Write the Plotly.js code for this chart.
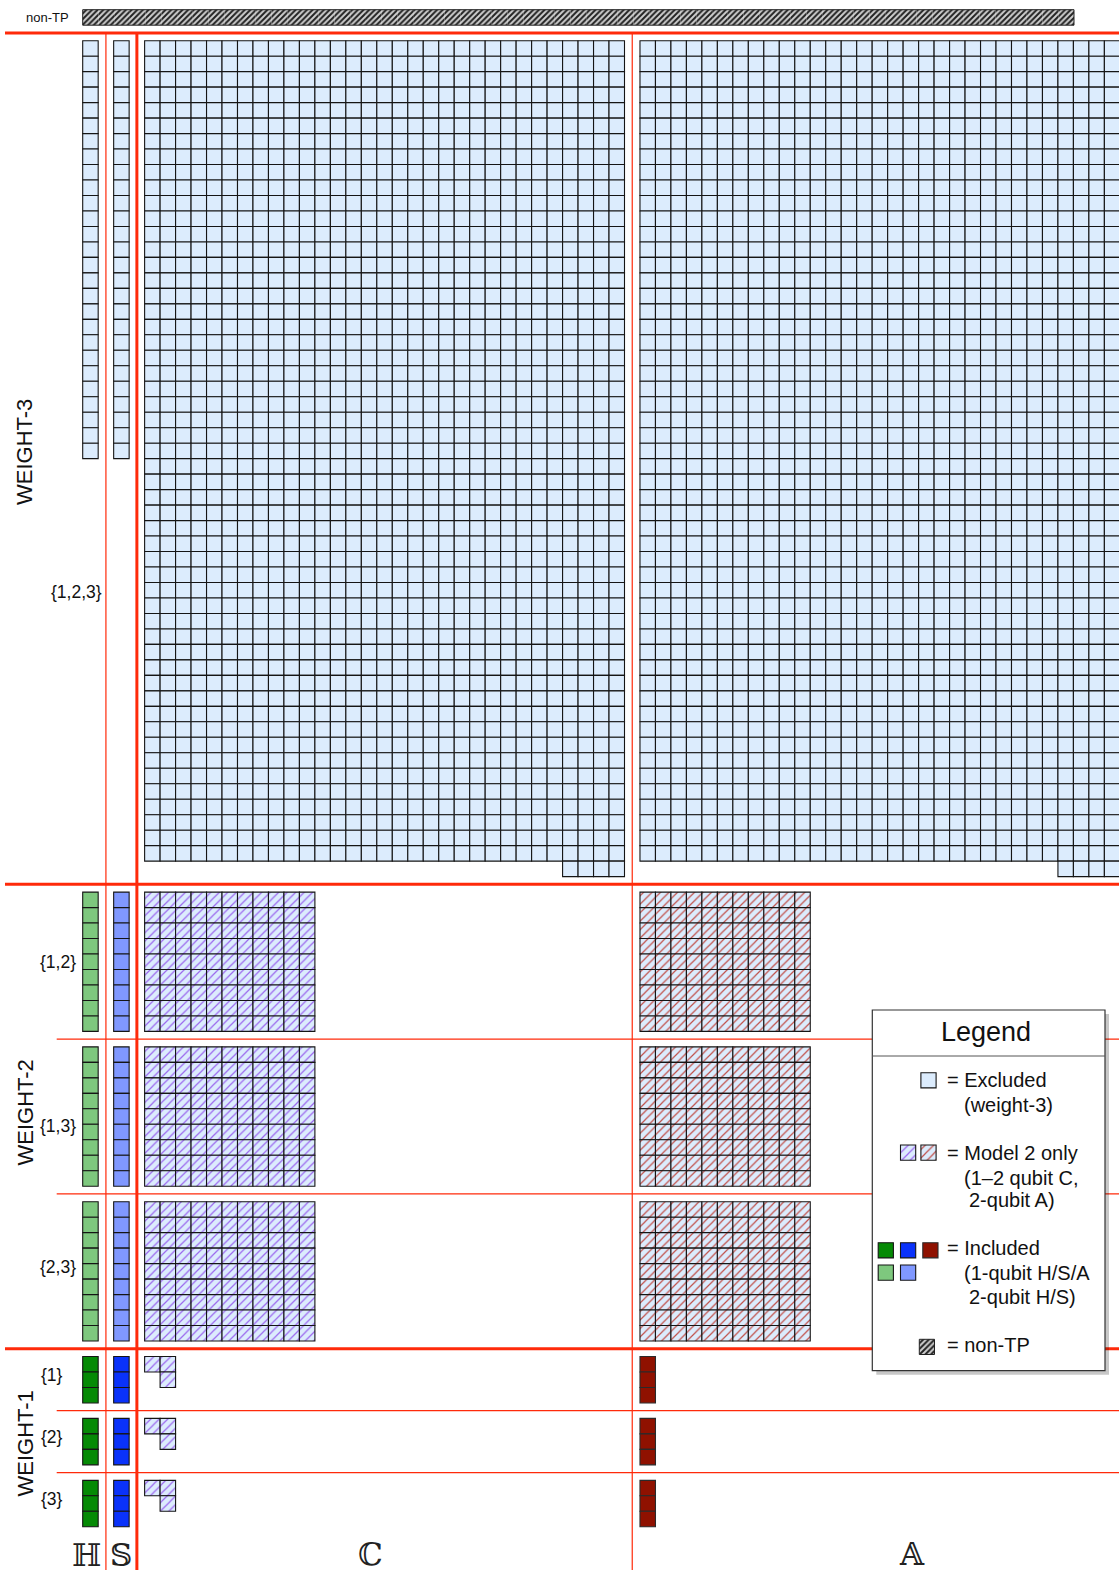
<!DOCTYPE html>
<html>
<head>
<meta charset="utf-8">
<script src="https://cdn.plot.ly/plotly-3.0.1.min.js"></script>
<style>html,body{margin:0;padding:0;background:#fff;}#chart{width:1119px;height:1575px;}</style>
</head>
<body>
<div id="chart"></div>
<script>
// ---------------- DATA ----------------
const weightNames = ['WEIGHT-3', 'WEIGHT-2', 'WEIGHT-1'];
const supports = [['{1,2,3}'], ['{1,2}', '{1,3}', '{2,3}'], ['{1}', '{2}', '{3}']];
const hCounts = [27, 9, 3];      // H terms per support, by weight
const sCounts = [27, 9, 3];      // S terms per support
const cCounts = [1647, 99, 3];   // C terms per support
const aCounts = [1647, 99, 3];   // A terms per support
const cCols = [31, 11, 2];       // columns of each C block
const aCols = [31, 11, 1];       // columns of each A block
const nonTPCount = 63;
const typeLetters = ['ℍ', '𝕊', 'ℂ', '𝔸'];
const legendLines = [
  ['= Excluded', '(weight-3)'],
  ['= Model 2 only', '(1–2 qubit C,', '2-qubit A)'],
  ['= Included', '(1-qubit H/S/A', '2-qubit H/S)'],
  ['= non-TP']
];

// ---------------- LAYOUT CONSTANTS ----------------
const W = 1119, H = 1575;
const S = 15.48, X0 = 82.7, Y0 = 40.7;
const typeCol0 = [0, 2, 4, 36];   // column offset (cells) of H, S, C, A
const RED = '#ff2a0a';
const EXC = '#dcecfd';
const colors = {
  hLight: '#7ec87e', sLight: '#8098ff',
  hDark: '#058a05', sDark: '#0a32fa', aDark: '#8f1100',
  cHatch: '#9a66ee', aHatch: '#c0504a'
};
const supLabelPos = [[[103.5, 591.7]], [[77.7, 961.5], [77.7, 1125.5], [77.7, 1267]], [[65, 1375], [65, 1437], [65, 1499]]];
const weightLabelY = [452.5, 1113, 1444];
const letterPos = [[86.7, 1574], [121.3, 1574], [370.7, 1573], [912, 1573]];
const nonTPBox = {x0: 82.7, x1: 1074, y0: 9.7, y1: 25.2};
const LG = {x0: 872.3, x1: 1105, y0: 1010, y1: 1370.7, divY: 1056, titleY: 1031.7,
  textX: 945, subX: 962, subX2: 967,
  lineY: [[1080, 1105], [1153, 1178, 1200], [1248, 1273, 1297], [1345]]};

// ---------------- BUILD CELLS ----------------
const groups = {};
function addCell(key, x, base, w, h) {
  if (!groups[key]) groups[key] = {x: [], base: [], y: [], w: []};
  groups[key].x.push(x); groups[key].base.push(base); groups[key].y.push(h); groups[key].w.push(w);
}
function block(key, n, ncols, col0, row0) {
  const nrows = Math.ceil(n / ncols);
  for (let i = 0; i < n; i++) {
    const r = Math.floor(i / ncols);
    let c = i % ncols;
    if (r === nrows - 1) c += ncols - (n - r * ncols);
    addCell(key, X0 + (col0 + c + 0.5) * S, Y0 + (row0 + r) * S, S, S);
  }
  return nrows;
}
const styleKeys = [
  ['exc', 'exc', 'exc', 'exc'],
  ['hLight', 'sLight', 'cM2', 'aM2'],
  ['hDark', 'sDark', 'cM2', 'aDark']
];
const sepRows = []; // [row, thick]
let row = 0;
weightNames.forEach((wn, wi) => {
  supports[wi].forEach((sup, si) => {
    sepRows.push([row - 0.5, si === 0]);
    const counts = [hCounts[wi], sCounts[wi], cCounts[wi], aCounts[wi]];
    const ncols = [1, 1, cCols[wi], aCols[wi]];
    let maxRows = 0;
    for (let t = 0; t < 4; t++) {
      maxRows = Math.max(maxRows, block(styleKeys[wi][t], counts[t], ncols[t], typeCol0[t], row));
    }
    row += maxRows + 1;
  });
});
// non-TP row
const ntW = (nonTPBox.x1 - nonTPBox.x0) / nonTPCount;
for (let i = 0; i < nonTPCount; i++) addCell('nonTP', nonTPBox.x0 + (i + 0.5) * ntW, nonTPBox.y0, ntW, nonTPBox.y1 - nonTPBox.y0);

// legend swatches
const sw = 15.2;
function swatch(key, x, y) { addCell(key, x + sw / 2, y, sw, sw); }
swatch('exc', 920.9, 1072.7);
swatch('cM2', 900.5, 1145); swatch('aM2', 920.9, 1145);
swatch('hDark', 878.2, 1242.7); swatch('sDark', 900.5, 1242.7); swatch('aDark', 922.8, 1242.7);
swatch('hLight', 878.2, 1265); swatch('sLight', 900.5, 1265);
swatch('nonTP', 919.3, 1339.3);

const LINE = {color: '#151515', width: 1.1};
const styles = {
  exc: {color: EXC, line: LINE},
  hLight: {color: colors.hLight, line: LINE},
  sLight: {color: colors.sLight, line: LINE},
  hDark: {color: colors.hDark, line: LINE},
  sDark: {color: colors.sDark, line: LINE},
  aDark: {color: colors.aDark, line: {color: '#2a2a2a', width: 1.1}},
  cM2: {color: EXC, line: LINE, pattern: {shape: '/', fgcolor: colors.cHatch, bgcolor: EXC, size: 6, solidity: 0.2, fillmode: 'replace'}},
  aM2: {color: EXC, line: LINE, pattern: {shape: '/', fgcolor: colors.aHatch, bgcolor: EXC, size: 6, solidity: 0.2, fillmode: 'replace'}},
  nonTP: {color: '#bbbbbb', line: {color: '#555', width: 0}, pattern: {shape: '/', fgcolor: '#222222', bgcolor: '#cfcfcf', size: 4, solidity: 0.5, fillmode: 'replace'}}
};
const traces = Object.keys(groups).map(k => ({
  type: 'bar', x: groups[k].x, y: groups[k].y, base: groups[k].base, width: groups[k].w,
  marker: styles[k], hoverinfo: 'skip', showlegend: false
}));

// ---------------- SHAPES ----------------
const shapes = [];
const yPx = r => Y0 + r * S;
const bottomY = 1570;
sepRows.forEach(([r, thick]) => {
  shapes.push({type: 'line', layer: 'below', xref: 'x', yref: 'y', x0: thick ? 5 : 56.7, x1: W, y0: yPx(r), y1: yPx(r),
    line: {color: RED, width: thick ? 3 : 1.2}});
});
[[1.5, 1.2], [3.5, 3], [35.5, 1.2]].forEach(([c, w]) => {
  const xx = X0 + c * S;
  shapes.push({type: 'line', layer: 'below', xref: 'x', yref: 'y', x0: xx, x1: xx, y0: yPx(-0.5), y1: bottomY, line: {color: RED, width: w}});
});
// legend box
shapes.push({type: 'rect', layer: 'below', xref: 'x', yref: 'y', x0: LG.x0 + 4, x1: LG.x1 + 4, y0: LG.y0 + 4, y1: LG.y1 + 4, fillcolor: 'rgba(0,0,0,0.22)', line: {width: 0}});
shapes.push({type: 'rect', layer: 'below', xref: 'x', yref: 'y', x0: LG.x0, x1: LG.x1, y0: LG.y0, y1: LG.y1, fillcolor: '#ffffff', line: {color: '#333', width: 1.2}});
shapes.push({type: 'line', layer: 'below', xref: 'x', yref: 'y', x0: LG.x0, x1: LG.x1, y0: LG.divY, y1: LG.divY, line: {color: '#555', width: 1}});
// non-TP outlines
shapes.push({type: 'rect', layer: 'above', xref: 'x', yref: 'y', x0: nonTPBox.x0, x1: nonTPBox.x1, y0: nonTPBox.y0, y1: nonTPBox.y1, line: {color: '#222', width: 1}});
shapes.push({type: 'rect', layer: 'above', xref: 'x', yref: 'y', x0: 919.3, x1: 919.3 + sw, y0: 1339.3, y1: 1339.3 + sw, line: {color: '#222', width: 1}});

// ---------------- ANNOTATIONS ----------------
const FONT = 'Liberation Sans, Arial, Helvetica, sans-serif';
const ann = [];
function txt(text, x, y, size, xanchor, extra) {
  ann.push(Object.assign({text, x, y, xref: 'x', yref: 'y', showarrow: false, xanchor: xanchor || 'center', yanchor: 'middle',
    font: {family: FONT, size, color: '#111'}}, extra || {}));
}
txt('non-TP', 71, 17.5, 13, 'right');
weightNames.forEach((wn, wi) => {
  txt(wn, 24.5, weightLabelY[wi], 22, 'center', {textangle: -90});
  supports[wi].forEach((s, si) => txt(s, supLabelPos[wi][si][0], supLabelPos[wi][si][1], 17.5, 'right'));
});
typeLetters.forEach((l, i) => ann.push({text: l, x: letterPos[i][0], y: letterPos[i][1], xref: 'x', yref: 'y', showarrow: false,
  xanchor: 'center', yanchor: 'bottom', borderpad: 0,
  font: {family: 'DejaVu Serif, DejaVu Sans, serif', size: 31, color: '#222'}}));
txt('Legend', (LG.x0 + LG.x1) / 2 - 3, LG.titleY, 27, 'center');
legendLines.forEach((lines, i) => {
  lines.forEach((t, j) => {
    const x = j === 0 ? LG.textX : (j === 2 ? LG.subX2 : LG.subX);
    txt(t, x, LG.lineY[i][j], 20, 'left');
  });
});

const layout = {
  width: W, height: H, margin: {l: 0, r: 0, t: 0, b: 0, pad: 0},
  paper_bgcolor: '#ffffff', plot_bgcolor: '#ffffff',
  barmode: 'overlay', showlegend: false,
  xaxis: {range: [0, W], visible: false, fixedrange: true},
  yaxis: {range: [H, 0], visible: false, fixedrange: true},
  shapes, annotations: ann
};
Plotly.newPlot('chart', traces, layout, {staticPlot: true, displayModeBar: false});
</script>
</body>
</html>
